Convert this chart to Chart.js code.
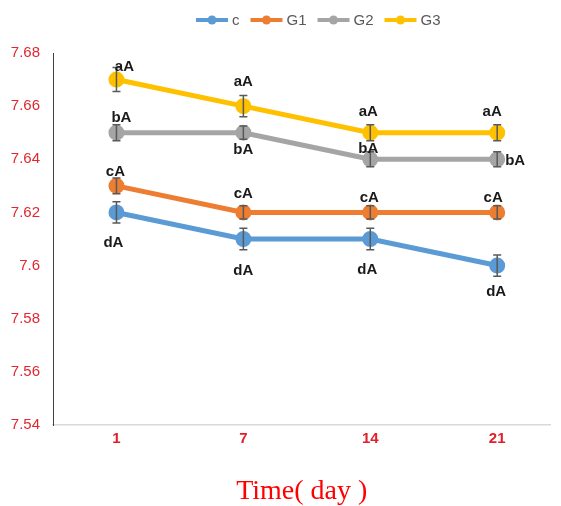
<!DOCTYPE html>
<html>
<head>
<meta charset="utf-8">
<script src="https://cdn.jsdelivr.net/npm/chart.js@4.4.1/dist/chart.umd.min.js"></script>
<style>
html, body { margin: 0; padding: 0; background: #fff; }
#wrap { width: 561px; height: 506px; }
</style>
</head>
<body>
<div id="wrap"><canvas id="chart"></canvas></div>
<script>
// data
const days = ['1', '7', '14', '21'];
const seriesNames = ['c', 'G1', 'G2', 'G3'];
const cValues  = [7.62, 7.61, 7.61, 7.60];
const g1Values = [7.63, 7.62, 7.62, 7.62];
const g2Values = [7.65, 7.65, 7.64, 7.64];
const g3Values = [7.67, 7.66, 7.65, 7.65];
const cErrors  = [0.004, 0.004, 0.004, 0.004];
const g1Errors = [0.003, 0.0025, 0.0025, 0.0025];
const g2Errors = [0.003, 0.0025, 0.0028, 0.0028];
const g3Errors = [0.0045, 0.004, 0.003, 0.003];
const cLetters  = ['dA', 'dA', 'dA', 'dA'];
const g1Letters = ['cA', 'cA', 'cA', 'cA'];
const g2Letters = ['bA', 'bA', 'bA', 'bA'];
const g3Letters = ['aA', 'aA', 'aA', 'aA'];
const yTicks = [7.54, 7.56, 7.58, 7.60, 7.62, 7.64, 7.66, 7.68];

// styling
const colors = ['#5B9BD5', '#ED7D31', '#A5A5A5', '#FFC000'];
const labelShift = [
    [[-3, 30], [0, 32], [-3, 31], [-1, 26]],
    [[-1, -14], [0, -19], [-1, -15], [-4, -15]],
    [[5, -15], [0, 17], [-2, -10], [18, 2]],
    [[8, -13], [0, -24], [-2, -21], [-5, -21]]
];
const narrow = '"Liberation Sans Narrow", "Arial Narrow", "Liberation Sans", sans-serif';

const values = [cValues, g1Values, g2Values, g3Values];
const errors = [cErrors, g1Errors, g2Errors, g3Errors];
const letters = [cLetters, g1Letters, g2Letters, g3Letters];

const datasets = seriesNames.map((name, s) => ({
    label: name,
    data: values[s].map((v, i) => ({ x: i, y: v })),
    borderColor: colors[s],
    backgroundColor: colors[s],
    borderWidth: 5,
    pointRadius: 5.5,
    pointHoverRadius: 5.5,
    tension: 0
}));

// error bars, letters and legend
const extras = {
    id: 'extras',
    afterDatasetsDraw(chart) {
        const c = chart.ctx;
        const y = chart.scales.y;
        c.save();
        c.strokeStyle = '#595959';
        c.lineWidth = 1.5;
        chart.data.datasets.forEach((ds, s) => {
            chart.getDatasetMeta(s).data.forEach((pt, i) => {
                const v = values[s][i], e = errors[s][i];
                const top = y.getPixelForValue(v + e);
                const bot = y.getPixelForValue(v - e);
                c.beginPath();
                c.moveTo(pt.x, top); c.lineTo(pt.x, bot);
                c.moveTo(pt.x - 4, top); c.lineTo(pt.x + 4, top);
                c.moveTo(pt.x - 4, bot); c.lineTo(pt.x + 4, bot);
                c.stroke();
            });
        });
        c.fillStyle = '#1a1a1a';
        c.font = 'bold 15px ' + narrow;
        c.textAlign = 'center';
        c.textBaseline = 'middle';
        chart.data.datasets.forEach((ds, s) => {
            chart.getDatasetMeta(s).data.forEach((pt, i) => {
                const d = labelShift[s][i];
                c.fillText(letters[s][i], pt.x + d[0], pt.y + d[1]);
            });
        });
        c.restore();
    },
    afterDraw(chart) {
        const c = chart.ctx;
        c.save();
        c.font = '15px ' + narrow;
        c.textBaseline = 'middle';
        c.textAlign = 'left';
        let x = 196;
        const ly = 20;
        chart.data.datasets.forEach(ds => {
            c.strokeStyle = ds.borderColor;
            c.lineWidth = 4;
            c.beginPath(); c.moveTo(x, ly); c.lineTo(x + 32, ly); c.stroke();
            c.fillStyle = ds.borderColor;
            c.beginPath(); c.arc(x + 16, ly, 4.5, 0, Math.PI * 2); c.fill();
            c.fillStyle = '#595959';
            c.fillText(ds.label, x + 36, ly + 1);
            x += 36 + c.measureText(ds.label).width + 11;
        });
        c.restore();
    }
};

new Chart(document.getElementById('chart'), {
    type: 'line',
    data: { datasets },
    plugins: [extras],
    options: {
        responsive: true,
        maintainAspectRatio: false,
        animation: false,
        layout: { padding: { top: 53, left: 0, right: 6, bottom: 0 } },
        plugins: {
            legend: { display: false },
            tooltip: { enabled: false }
        },
        scales: {
            x: {
                type: 'linear',
                min: -0.5,
                max: 3.42,
                afterBuildTicks: sc => { sc.ticks = days.map((d, i) => ({ value: i })); },
                afterFit: sc => { sc.height = 81; },
                grid: { display: false, drawTicks: false },
                border: { display: true, color: '#D9D9D9', width: 1.5 },
                ticks: {
                    padding: 5,
                    color: '#E0202A',
                    font: { family: narrow, size: 15, weight: 'bold' },
                    callback: v => days[v] ?? ''
                },
                title: {
                    display: true,
                    text: 'Time( day )',
                    color: '#FF0000',
                    font: { family: '"Liberation Serif", "Times New Roman", serif', size: 28, weight: 'normal', lineHeight: 1 },
                    padding: { top: 0, bottom: 0 }
                }
            },
            y: {
                min: 7.54,
                max: 7.68,
                afterBuildTicks: sc => { sc.ticks = yTicks.map(v => ({ value: v })); },
                afterFit: sc => { sc.width = 53; },
                grid: { display: false, drawTicks: false },
                border: { display: true, color: '#404040', width: 1 },
                ticks: {
                    padding: 13,
                    color: '#E3262F',
                    font: { family: narrow, size: 15 },
                    callback: v => String(+v.toFixed(2))
                }
            }
        }
    }
});
</script>
</body>
</html>
